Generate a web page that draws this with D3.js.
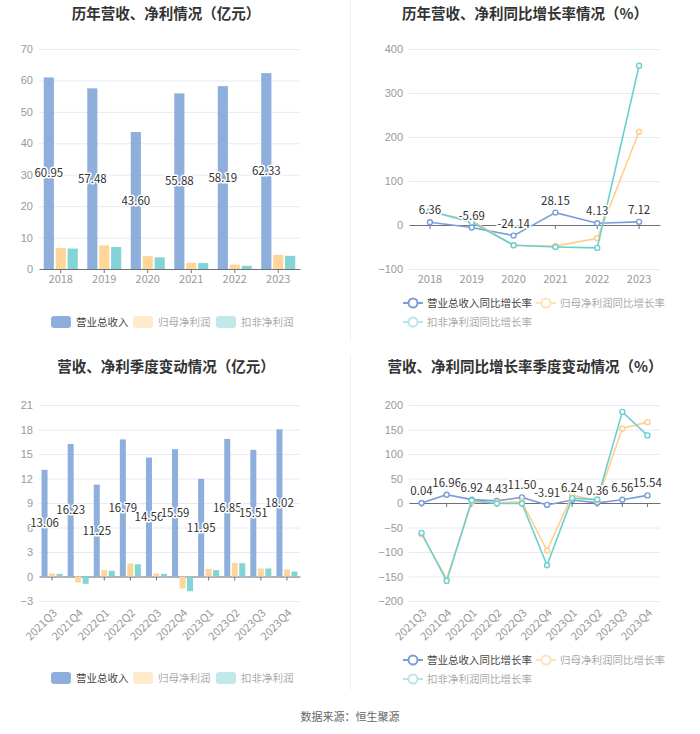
<!DOCTYPE html>
<html><head><meta charset="utf-8">
<script src="https://cdn.jsdelivr.net/npm/d3@7/dist/d3.min.js"></script>
<style>
html,body{margin:0;padding:0;background:#fff;}
svg{display:block;font-family:"Noto Sans CJK SC","Noto Sans",sans-serif;}
</style></head>
<body>
<svg id="c" width="700" height="734"></svg>
<script>
// ---- data ----
const years = ["2018","2019","2020","2021","2022","2023"];
const revenue = [60.95,57.48,43.60,55.88,58.19,62.33];
const netProfit = [6.7,7.5,4.1,2.0,1.4,4.5];
const deductedProfit = [6.5,7.0,3.7,1.9,1.0,4.2];
const revenueYoY = [6.36,-5.69,-24.14,28.15,4.13,7.12];
const netProfitYoY = [30,10,-46,-48,-30,212];
const deductedYoY = [32,6,-46,-50,-52,362];

const quarters = ["2021Q3","2021Q4","2022Q1","2022Q2","2022Q3","2022Q4","2023Q1","2023Q2","2023Q3","2023Q4"];
const qRevenue = [13.06,16.23,11.25,16.79,14.56,15.59,11.95,16.85,15.51,18.02];
const qNetProfit = [0.37,-0.73,0.78,1.6,0.37,-1.47,0.94,1.67,0.98,0.86];
const qDeductedProfit = [0.33,-0.9,0.7,1.5,0.33,-1.8,0.78,1.63,0.98,0.61];
const qRevenueYoY = [0.04,16.96,6.92,4.43,11.50,-3.91,6.24,0.36,6.56,15.54];
const qNetProfitYoY = [-64,-155,2,1,2,-97,16,5,152,165];
const qDeductedYoY = [-61,-159,5,-1,-1,-127,10,7,186,138];

const ticksTL = [0,10,20,30,40,50,60,70];
const ticksTR = [-100,0,100,200,300,400];
const ticksBL = [-3,0,3,6,9,12,15,18,21];
const ticksBR = [-200,-150,-100,-50,0,50,100,150,200];

const barSeries = ["营业总收入","归母净利润","扣非净利润"];
const lineSeries = ["营业总收入同比增长率","归母净利润同比增长率","扣非净利润同比增长率"];
const titles = ["历年营收、净利情况（亿元）","历年营收、净利同比增长率情况（%）","营收、净利季度变动情况（亿元）","营收、净利同比增长率季度变动情况（%）"];
const source = "数据来源：恒生聚源";

const barColors = ["#8eaedc","#fed69a","#82d4d6"];
const lineColors = ["#7b9ed9","#ffcf8b","#6ccfd2"];
const legendBarColors = ["#8eaedc","#ffebcc","#c2e9ea"];
const legendLineColors = ["#7b9ed9","#ffe2b8","#b8e6e8"];
const legendTextColors = ["#444","#aaa","#aaa"];

const svg = d3.select("#c");
const gridColor = "#e6eaf4";
const axisColor = "#6e7079";
const labelColor = "#999";

// separators
svg.append("line").attr("x1",350.5).attr("x2",350.5).attr("y1",0).attr("y2",342).attr("stroke","#f0f0f0");
svg.append("line").attr("x1",350.5).attr("x2",350.5).attr("y1",354).attr("y2",690).attr("stroke","#f0f0f0");

function title(t,x,y){
  svg.append("text").attr("x",x).attr("y",y).attr("text-anchor","middle")
    .attr("font-size",14.5).attr("font-weight","bold").attr("fill","#333").text(t);
}
title(titles[0],166,19);
title(titles[1],525,19);
title(titles[2],166,372);
title(titles[3],525,372);
svg.append("text").attr("x",350).attr("y",721).attr("text-anchor","middle")
  .attr("font-size",11).attr("fill","#666").text(source);

function frame(cats, dom, ticks, x0,x1,y0,y1, rotate){
  const g = svg.append("g");
  const x = d3.scaleBand().domain(cats).range([x0,x1]).padding(0);
  const y = d3.scaleLinear().domain(dom).range([y1,y0]);
  const ya = d3.axisLeft(y).tickValues(ticks).tickSize(-(x1-x0)).tickPadding(6).tickFormat(d3.format("d"));
  const gy = g.append("g").attr("transform",`translate(${x0},0)`).call(ya);
  gy.select(".domain").remove();
  gy.selectAll("line").attr("stroke",gridColor);
  gy.selectAll("text").attr("fill",labelColor).attr("font-size",11).attr("font-family","inherit");
  const xa = d3.axisBottom(x).tickSize(4).tickFormat("").tickSizeOuter(0);
  const gx = g.append("g").attr("transform",`translate(0,${y(0)})`).call(xa);
  gx.selectAll("path,line").attr("stroke",axisColor);
  const lab = g.append("g").selectAll("text").data(cats).join("text")
    .attr("fill",labelColor).attr("font-size",11).text(d=>d);
  if(rotate){
    lab.attr("text-anchor","end")
      .attr("transform",d=>`translate(${x(d)+x.bandwidth()/2+3},${y1+10}) rotate(-45)`)
      .attr("dy","0.35em");
  } else {
    lab.attr("text-anchor","middle").attr("x",d=>x(d)+x.bandwidth()/2).attr("y",y1+14);
  }
  return {g,x,y};
}

function haloText(g,x,y,t){
  g.append("text").attr("x",x).attr("y",y).attr("text-anchor","middle").attr("dy","0.35em")
    .attr("font-size",11.5).attr("fill","#333").attr("stroke","#fff").attr("stroke-width",3)
    .attr("paint-order","stroke").attr("stroke-linejoin","round").text(t);
}

function bars(f, cats, series, groupW, padIn){
  const {g,x,y} = f;
  const inner = d3.scaleBand().domain(d3.range(series.length)).range([0,groupW]).paddingInner(padIn);
  series.forEach((vals,si)=>{
    g.append("g").selectAll("rect").data(vals).join("rect")
      .attr("x",(d,i)=>x(cats[i])+x.bandwidth()/2-groupW/2+inner(si))
      .attr("width",inner.bandwidth())
      .attr("y",d=>Math.min(y(d),y(0)))
      .attr("height",d=>Math.abs(y(d)-y(0)))
      .attr("fill",barColors[si]);
  });
  series[0].forEach((d,i)=>{
    haloText(g, x(cats[i])+x.bandwidth()/2-groupW/2+inner(0)+inner.bandwidth()/2, y(d/2), d.toFixed(2));
  });
}

function lines(f, cats, series){
  const {g,x,y} = f;
  const cx = c=>x(c)+x.bandwidth()/2;
  [0,1,2].forEach(si=>{
    const vals = series[si];
    const line = d3.line().x((d,i)=>cx(cats[i])).y(d=>y(d));
    g.append("path").datum(vals).attr("d",line).attr("fill","none")
      .attr("stroke",lineColors[si]).attr("stroke-width",1.6);
    g.append("g").selectAll("circle").data(vals).join("circle")
      .attr("cx",(d,i)=>cx(cats[i])).attr("cy",d=>y(d)).attr("r",2.5)
      .attr("fill","#fff").attr("stroke",lineColors[si]).attr("stroke-width",1.4);
  });
  series[0].forEach((d,i)=>haloText(g,cx(cats[i]),y(d)-12,d.toFixed(2)));
}

function barLegend(yc){
  const xs=[[51,76],[133,158],[216,241]];
  barSeries.forEach((s,i)=>{
    svg.append("rect").attr("x",xs[i][0]).attr("y",yc-6).attr("width",20).attr("height",12).attr("rx",3)
      .attr("fill",legendBarColors[i]);
    svg.append("text").attr("x",xs[i][1]).attr("y",yc).attr("dy","0.35em").attr("font-size",10.5)
      .attr("fill",legendTextColors[i]).text(s);
  });
}
function lineLegend(y1,y2){
  const pos=[[403,y1],[536,y1],[403,y2]];
  lineSeries.forEach((s,i)=>{
    const [px,py]=pos[i];
    svg.append("line").attr("x1",px).attr("x2",px+20).attr("y1",py).attr("y2",py)
      .attr("stroke",legendLineColors[i]).attr("stroke-width",2);
    svg.append("circle").attr("cx",px+10).attr("cy",py).attr("r",4.5).attr("fill","#fff")
      .attr("stroke",legendLineColors[i]).attr("stroke-width",2);
    svg.append("text").attr("x",px+24).attr("y",py).attr("dy","0.35em").attr("font-size",10.5)
      .attr("fill",legendTextColors[i]).text(s);
  });
}

const fTL = frame(years,[0,70],ticksTL,39,300,49,269,false);
bars(fTL, years, [revenue,netProfit,deductedProfit], 34, 0.15);
const fTR = frame(years,[-100,400],ticksTR,409,660,49,269,false);
lines(fTR, years, [revenueYoY,netProfitYoY,deductedYoY]);
const fBL = frame(quarters,[-3,21],ticksBL,39,300,405,601,true);
bars(fBL, quarters, [qRevenue,qNetProfit,qDeductedProfit], 21, 0.2);
const fBR = frame(quarters,[-200,200],ticksBR,409,660,405,601,true);
lines(fBR, quarters, [qRevenueYoY,qNetProfitYoY,qDeductedYoY]);

barLegend(322);
lineLegend(303,322);
barLegend(678);
lineLegend(660,679);
</script>
</body></html>
